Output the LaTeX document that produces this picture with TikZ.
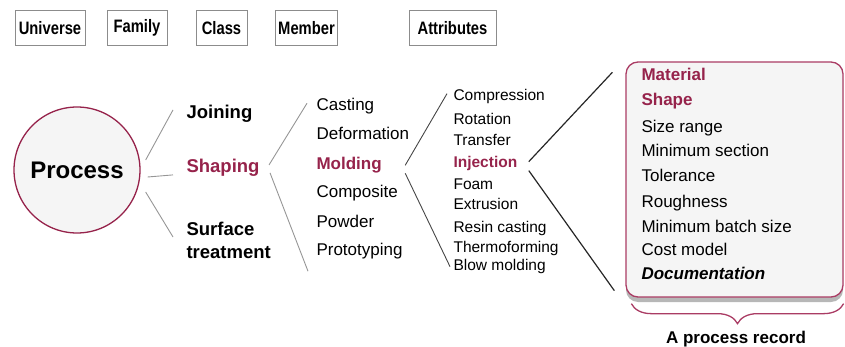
\documentclass[tikz,border=0pt]{standalone}
\usepackage{fontspec}
\setmainfont{Liberation Sans}
\newfontfamily\headfont[FakeStretch=0.82]{Liberation Sans}
\definecolor{procred}{RGB}{150, 35, 75}
\definecolor{recpink}{RGB}{170, 60, 100}
\definecolor{linegray}{RGB}{150, 150, 150}
\definecolor{linedark}{RGB}{70, 70, 70}
\usetikzlibrary{positioning, calc, shadows, decorations.pathreplacing}

\begin{document}
\begin{tikzpicture}[x=1pt, y=-1pt,
  head/.style={draw=gray!90, line width=0.9pt, minimum height=35pt, minimum width=#1, inner xsep=3pt, font=\headfont\fontsize{18}{21}\selectfont\bfseries},
  fam/.style={anchor=mid west, font=\fontsize{18.5}{23}\selectfont\bfseries, align=left},
  cls/.style={anchor=mid west, font=\fontsize{17}{20}\selectfont},
  mem/.style={anchor=mid west, font=\fontsize{15.5}{18}\selectfont},
  attrib/.style={anchor=mid west, font=\fontsize{17}{20}\selectfont},
  hot/.style={text=procred, execute at begin node=\bfseries},
  fan/.style={draw=#1, line width=0.9pt},
]
  \useasboundingbox (0,0) rectangle (845,347);

  \node[head=70pt] (univ) at (50,28) {Universe};
  \node[head=60pt] (fami) at (137,28) {Family};
  \node[head=51pt] (clas) at (221.5,28) {Class};
  \node[head=61pt] (memb) at (306.5,28) {Member};
  \node[head=87pt] (attrhd) at (452.5,28) {Attributes};

  \node[circle, draw=procred, line width=1.3pt, fill=gray!8, minimum size=126pt, font=\fontsize{24}{28}\selectfont\bfseries] (proc) at (77,170) {Process};

  \node[fam] (join) at (183,116) {Joining};
  \node[fam, hot] (shap) at (183,170) {Shaping};
  \node[fam, anchor=west] (surf) at (183,240) {Surface\\treatment};

  \draw[fan=linegray] ($(proc.east)+(5,-10)$) -- ($(join.west)+(-10,-4)$);
  \draw[fan=linegray] ($(proc.east)+(7,7)$) -- ($(shap.west)+(-10,7)$);
  \draw[fan=linegray] ($(proc.east)+(5,22)$) -- ($(surf.west)+(-10,-3)$);

  \node[cls] (cast) at (313,108) {Casting};
  \node[cls] (defo) at (313,137) {Deformation};
  \node[cls, hot] (mold) at (313,167) {Molding};
  \node[cls] (comp) at (313,195) {Composite};
  \node[cls] (powd) at (313,225) {Powder};
  \node[cls] (prot) at (313,253) {Prototyping};

  \draw[fan=linegray] ($(shap.east)+(6,-3)$) -- ($(cast.west)+(-6,-3)$);
  \draw[fan=linegray] ($(shap.east)+(7,5)$) -- ($(prot.west)+(-5,20)$);

  \node[mem] (cmpr) at (450,98) {Compression};
  \node[mem] (rota) at (450,122) {Rotation};
  \node[mem] (tran) at (450,143) {Transfer};
  \node[mem, hot] (inje) at (450,165) {Injection};
  \node[mem] (foam) at (450,187) {Foam};
  \node[mem] (extr) at (450,207) {Extrusion};
  \node[mem] (resi) at (450,230) {Resin casting};
  \node[mem] (ther) at (450,250) {Thermoforming};
  \node[mem] (blow) at (450,268) {Blow molding};

  \draw[fan=linedark] ($(mold.east)+(20,0)$) -- ($(cmpr.west)+(-3,-3)$);
  \draw[fan=linedark] ($(mold.east)+(20,8)$) -- ($(blow.west)+(0,0)$);

  \node[draw=recpink, line width=1.3pt, rounded corners=12pt, fill=gray!8, minimum width=217pt, minimum height=235pt,
        drop shadow={shadow xshift=0pt, shadow yshift=-5pt, fill=gray!80, opacity=0.7}] (rec) at (734.5,179.5) {};

  \node[attrib, hot] (matl) at (638,78) {Material};
  \node[attrib, hot] (shpe) at (638,103) {Shape};
  \node[attrib] (size) at (638,130) {Size range};
  \node[attrib] (msec) at (638,154) {Minimum section};
  \node[attrib] (tole) at (638,179) {Tolerance};
  \node[attrib] (roug) at (638,205) {Roughness};
  \node[attrib] (batc) at (638,230) {Minimum batch size};
  \node[attrib] (cost) at (638,253) {Cost model};
  \node[attrib, font=\fontsize{17}{20}\selectfont\bfseries\itshape] (docu) at (638,277) {Documentation};

  \draw[fan=black!85, line width=1.2pt] ($(inje.east)+(8,-2)$) -- ($(rec.north west)+(-13,11)$);
  \draw[fan=black!85, line width=1.2pt] ($(inje.east)+(8,7)$) -- ($(rec.south west)+(-11,-7)$);

  \draw[decorate, decoration={brace, amplitude=20pt}, draw=recpink, line width=1.3pt] ($(rec.south east)+(0,6)$) -- ($(rec.south west)+(6,6)$);
  \node[font=\fontsize{17}{20}\selectfont\bfseries] (recl) at (736,339) {A process record};
\end{tikzpicture}
\end{document}
